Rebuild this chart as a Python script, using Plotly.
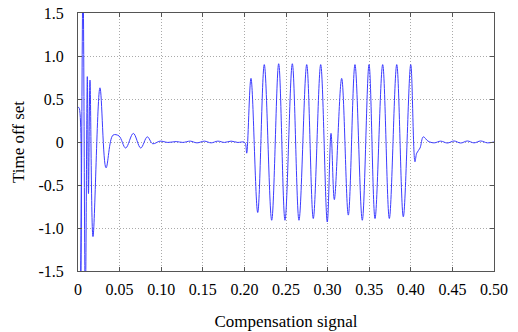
import plotly.graph_objects as go

# time (s) and offset values
t_start = [0.0, 0.0012, 0.003, 0.006, 0.0088, 0.0112, 0.0126, 0.0144, 0.018, 0.0264,
           0.0337, 0.0421, 0.0493, 0.0573, 0.0665, 0.0754, 0.0833, 0.0898, 0.0986]
v_start = [0.4, 0.4, -1.9, 1.9, -1.9, 0.76, -0.6, 0.72, -1.1, 0.63,
           -0.3, 0.08, 0.07, -0.07, 0.1, -0.07, 0.06, -0.02, 0.01]

t_quiet = [0.108, 0.118, 0.126, 0.135, 0.143, 0.152, 0.160, 0.168, 0.176, 0.184, 0.192, 0.1995]
v_quiet = [-0.005, 0.005, -0.005, 0.01, -0.01, 0.01, -0.01, 0.01, -0.005, 0.01, -0.005, 0.0]

t_burst = [0.2013, 0.2028, 0.2079, 0.2160, 0.2239, 0.2328, 0.2412, 0.2488, 0.2576, 0.2656,
           0.2749, 0.2828, 0.2917, 0.2996, 0.3041, 0.3081, 0.3169, 0.3249, 0.3329, 0.3417,
           0.3498, 0.3570, 0.3662, 0.3742, 0.3831, 0.3910, 0.3999, 0.4050, 0.4071, 0.4111,
           0.4150, 0.4207]
v_burst = [-0.02, -0.13, 0.74, -0.82, 0.90, -0.91, 0.91, -0.91, 0.91, -0.91,
           0.90, -0.89, 0.90, -0.93, 0.10, -0.67, 0.74, -0.85, 0.90, -0.91,
           0.90, -0.89, 0.90, -0.89, 0.90, -0.87, 0.90, -0.23, -0.13, -0.07,
           0.06, 0.01]

t_tail = [0.428, 0.436, 0.444, 0.452, 0.460, 0.468, 0.476, 0.484, 0.492, 0.500]
v_tail = [-0.01, 0.01, -0.012, 0.012, -0.012, 0.012, -0.01, 0.012, -0.01, 0.0]

x_ticks = [0, 0.05, 0.10, 0.15, 0.20, 0.25, 0.30, 0.35, 0.40, 0.45, 0.50]
x_labels = ["0", "0.05", "0.10", "0.15", "0.20", "0.25", "0.30", "0.35", "0.40", "0.45", "0.50"]
y_ticks = [-1.5, -1.0, -0.5, 0, 0.5, 1.0, 1.5]
y_labels = ["-1.5", "-1.0", "-0.5", "0", "0.5", "1.0", "1.5"]

t = t_start + t_quiet + t_burst + t_tail
v = v_start + v_quiet + v_burst + v_tail

fig = go.Figure()
fig.add_trace(go.Scatter(x=t, y=v, mode="lines",
                         line=dict(color="#3c3cff", width=1, shape="spline", smoothing=1.0),
                         showlegend=False, hoverinfo="skip"))

font_family = "Liberation Serif"
axis_common = dict(showline=True, linecolor="#555555", linewidth=1, mirror="allticks",
                   ticks="inside", ticklen=4, tickcolor="#555555",
                   showgrid=True, gridcolor="#aaaaaa", griddash="1px,2px", gridwidth=1,
                   zeroline=False, automargin=False,
                   tickfont=dict(family=font_family, size=16, color="black"))

fig.update_layout(
    width=518, height=332,
    margin=dict(l=78, r=24, t=13, b=61),
    paper_bgcolor="white", plot_bgcolor="white",
    font=dict(family=font_family, color="black"),
    xaxis=dict(range=[0, 0.5], tickvals=x_ticks, ticktext=x_labels, ticklabelstandoff=4,
               title=dict(text="Compensation signal", font=dict(family=font_family, size=17), standoff=17),
               **axis_common),
    yaxis=dict(range=[-1.5, 1.5], tickvals=y_ticks, ticktext=y_labels, ticklabelstandoff=10,
               title=dict(text="Time off set", font=dict(family=font_family, size=17), standoff=9),
               **axis_common),
)

# remove the page's default body margin so the figure sits at the window origin
fig.write_html("out.html", config={"displayModeBar": False},
               post_script="document.body.style.margin='0';")
